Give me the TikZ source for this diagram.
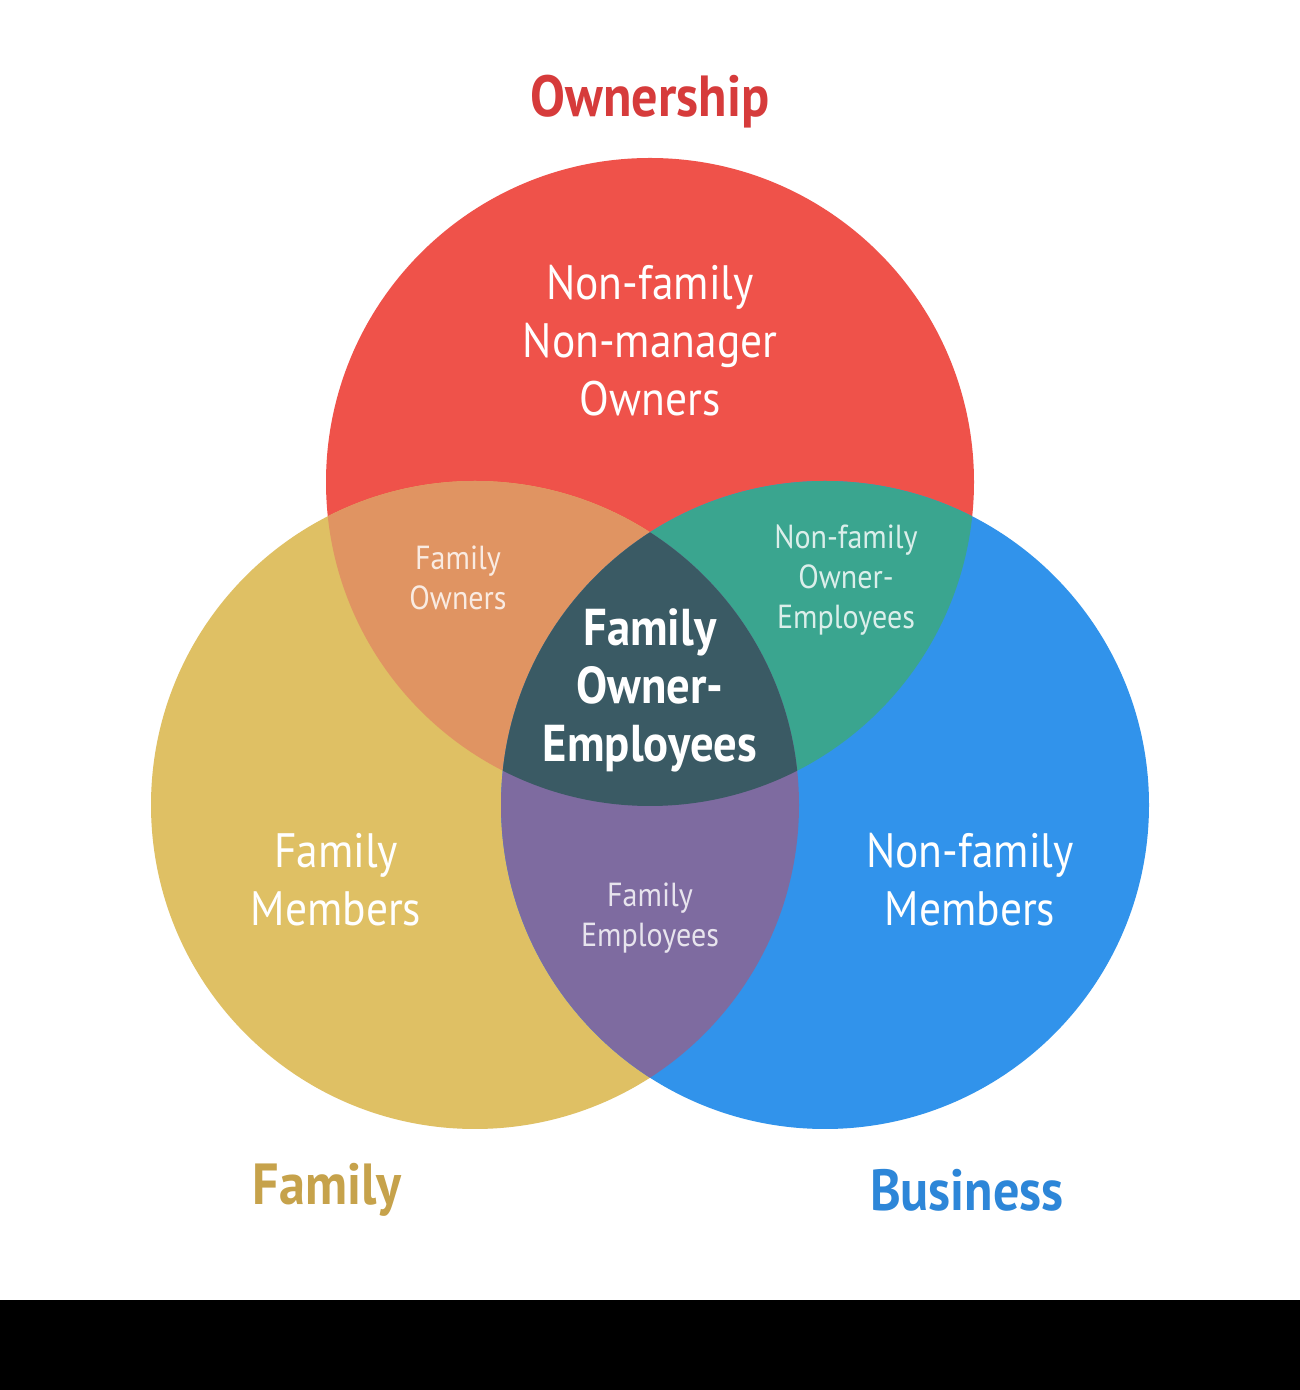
\documentclass[tikz,border=0pt]{standalone}
\usepackage{fontspec}
\setmainfont{PT Sans}[FakeStretch=0.9]
\definecolor{ownred}{HTML}{EF524A}
\definecolor{famgold}{HTML}{DFC064}
\definecolor{busblue}{HTML}{3193EB}
\definecolor{redgold}{HTML}{E09462}
\definecolor{redblue}{HTML}{3AA58F}
\definecolor{goldblue}{HTML}{7E6BA0}
\definecolor{allthree}{HTML}{3A5A64}
\definecolor{ownlabel}{HTML}{D63B3B}
\definecolor{famlabel}{HTML}{C6A24B}
\definecolor{buslabel}{HTML}{2D86D8}
\tikzset{
  bigtxt/.style={text=white,align=center,font=\fontsize{27.5}{33}\selectfont},
  smalltxt/.style={text=white,text opacity=0.82,align=center,font=\fontsize{19}{22.7}\selectfont},
  titletxt/.style={font=\fontsize{33}{38}\selectfont\bfseries}
}

\begin{document}
\begin{tikzpicture}[x=0.02cm,y=0.02cm]
\path[use as bounding box] (0,0) rectangle (1300,1390);
\fill[white] (0,0) rectangle (1300,1390);
\fill[black] (0,0) rectangle (1300,90);
\coordinate (cown) at (650,908);
\coordinate (cfam) at (475,585);
\coordinate (cbus) at (825,585);
\fill[ownred] (cown) circle (324);
\fill[famgold] (cfam) circle (324);
\fill[busblue] (cbus) circle (324);
\begin{scope}
\clip (cown) circle (324);
\fill[redgold] (cfam) circle (324);
\fill[redblue] (cbus) circle (324);
\end{scope}
\begin{scope}
\clip (cfam) circle (324);
\fill[goldblue] (cbus) circle (324);
\end{scope}
\begin{scope}
\clip (cown) circle (324);
\clip (cfam) circle (324);
\fill[allthree] (cbus) circle (324);
\end{scope}
\node[titletxt,text=ownlabel] (tOwn) at (650,1288) {Ownership};
\node[titletxt,text=famlabel] (tFam) at (327,200) {Family};
\node[titletxt,text=buslabel] (tBus) at (967,200) {Business};
\node[bigtxt] (nOwners) at (650,1049) {Non-family\\Non-manager\\Owners};
\node[bigtxt] (nFamMem) at (336,510) {Family\\Members};
\node[bigtxt] (nBusMem) at (970,510) {Non-family\\Members};
\node[bigtxt,font=\fontsize{29.5}{33}\selectfont\bfseries] (nCore) at (650,700) {Family\\Owner-\\Employees};
\node[smalltxt] (nFamOwn) at (458,812) {Family\\Owners};
\node[smalltxt] (nOwnEmp) at (846,810) {Non-family\\Owner-\\Employees};
\node[smalltxt] (nFamEmp) at (650,472) {Family\\Employees};
\end{tikzpicture}
\end{document}
